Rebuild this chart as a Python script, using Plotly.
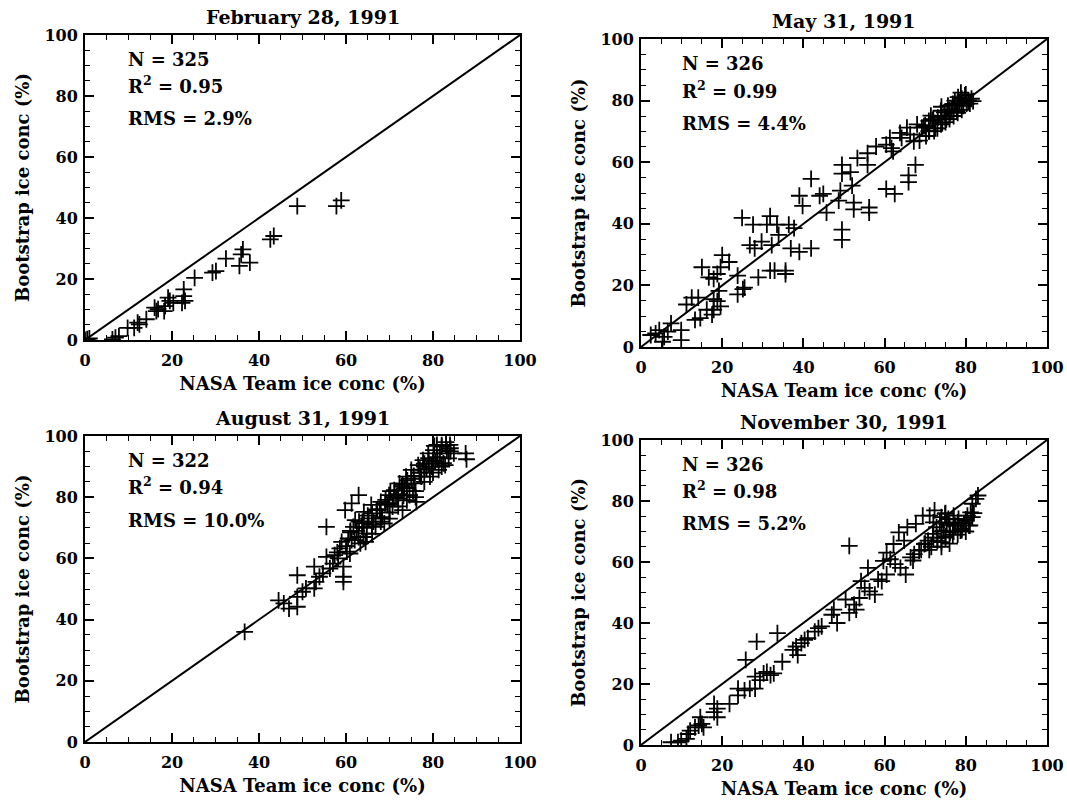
import plotly.graph_objects as go
from plotly.subplots import make_subplots

# ---------------- data ----------------
titles = ["February 28, 1991", "May 31, 1991", "August 31, 1991", "November 30, 1991"]
n_values = [325, 326, 322, 326]
r2_values = ["0.95", "0.99", "0.94", "0.98"]
rms_values = ["2.9%", "4.4%", "10.0%", "5.2%"]
x_title = "NASA Team ice conc (%)"
y_title = "Bootstrap ice conc (%)"
tick_vals = [0, 20, 40, 60, 80, 100]
tick_text = ["0", "20", "40", "60", "80", "100"]
one_to_one = [0, 100]

feb_nasa = [0, 0.5, 1, 6.3, 7.0, 7.8, 9.8, 11.3, 12.1, 12.5, 14.1, 16.0, 16.4, 16.8, 18.2, 18.4,
            19.1, 19.5, 20.3, 22.3, 23.0, 22.7, 22.7, 25.2, 29.3, 30.1, 32.4, 35.5, 35.9, 36.3,
            37.9, 42.6, 43.4, 48.8, 57.8, 58.9]
feb_boot = [0, 0.3, 0.5, 0.2, 0.8, 1.3, 4.0, 4.0, 5.7, 5.1, 6.8, 10.6, 9.5, 10.1, 9.5, 11.1,
            13.9, 12.8, 12.2, 12.2, 12.8, 14.4, 16.6, 20.4, 22.1, 22.6, 26.7, 24.3, 28.1, 29.7,
            25.4, 33.0, 34.1, 43.9, 43.9, 45.8]

may_nasa = [2.4, 3.6, 4.5, 5.7, 5.3, 6.6, 7.4, 9.9, 9.9, 11.2, 12.5, 14.1, 13.3, 14.6, 16.2,
            17.5, 17.9, 17.9, 18.8, 19.6, 19.2, 15.0, 16.7, 17.9, 18.8, 19.6, 20.0, 21.7, 23.8,
            23.8, 25.1, 25.5, 24.9, 27.6, 26.8, 28.0, 28.9, 29.7, 31.0, 31.8, 32.2, 31.8, 32.9,
            33.5, 33.9, 35.6, 35.6, 36.4, 37.7, 36.9, 39.0, 39.8, 39.0, 41.9, 41.9, 44.0, 44.9,
            45.7, 49.1, 48.7, 49.5, 49.5, 49.5, 49.5, 51.6, 52.0, 52.4, 52.4, 53.3, 55.8, 55.8,
            56.2, 56.2, 57.9, 60.4, 61.3, 61.7, 60.4, 62.5, 62.1, 63.8, 64.2, 65.5, 65.9, 65.9,
            67.6, 67.2, 68.0, 69.2, 69.7, 70.9, 71.4, 72.2, 73.1, 73.9, 74.7, 75.6, 76.0, 76.8,
            77.3, 78.1, 78.5, 79.0, 79.8, 80.6, 81.4, 73.9, 75.2, 70.9, 66.3, 72.5, 74.2, 76.5,
            77.8, 79.4, 80.2, 71.8, 70.2, 68.6, 75.0, 78.8, 81.8,
            70.0, 71.0, 72.0, 73.0, 74.0, 75.0, 76.0, 77.0, 78.0, 79.0, 80.0, 81.0, 74.0, 76.0, 78.0]
may_boot = [3.9, 4.4, 5.5, 3.3, 1.7, 5.0, 7.7, 5.5, 2.2, 13.8, 16.0, 16.0, 8.8, 9.4, 12.1,
            10.5, 12.1, 15.5, 14.9, 13.2, 18.2, 25.9, 22.6, 22.1, 23.7, 25.9, 29.8, 27.6, 23.2,
            17.1, 18.8, 19.3, 41.9, 39.7, 33.1, 32.0, 22.6, 34.2, 39.7, 42.5, 33.1, 24.8, 24.8,
            39.7, 36.4, 24.8, 23.7, 39.7, 38.6, 32.0, 49.1, 45.8, 30.9, 32.0, 54.6, 49.1, 49.7,
            43.6, 50.8, 47.5, 59.1, 56.3, 38.1, 34.8, 56.8, 52.4, 46.9, 44.7, 61.3, 62.9, 59.1,
            45.3, 43.6, 65.1, 65.7, 67.9, 64.6, 51.3, 49.7, 63.5, 69.5, 67.9, 71.2, 55.7, 53.5,
            59.1, 66.8, 72.3, 71.2, 71.7, 73.4, 75.1, 70.1, 74.5, 76.7, 76.2, 78.4, 75.1, 78.9,
            80.0, 81.1, 79.5, 80.6, 81.7, 80.0, 80.6, 72.3, 73.9, 70.1, 69.0, 71.0, 72.8, 77.2,
            76.5, 78.3, 79.0, 73.6, 68.5, 67.0, 74.3, 82.6, 79.8,
            72.0, 70.0, 74.0, 71.0, 75.0, 73.0, 77.0, 75.0, 79.0, 77.0, 82.0, 79.0, 78.0, 74.0, 76.0]

aug_nasa = [36.7, 44.5, 45.7, 46.9, 48.8, 48.8, 48.8, 50.0, 50.8, 52.7, 53.1, 52.7, 53.9, 54.7,
            55.5, 55.5, 56.3, 57.0, 57.4, 58.2, 58.6, 59.0, 59.4, 59.4, 59.4, 59.8, 60.2, 60.9,
            61.3, 61.3, 61.7, 62.1, 62.9, 62.9, 63.3, 63.7, 64.1, 64.5, 64.8, 65.2, 66.0, 66.8,
            67.2, 68.0, 68.8, 69.1, 69.9, 70.7, 71.1, 71.9, 72.3, 73.0, 73.4, 73.8, 74.6, 75.0,
            75.8, 76.2, 76.6, 77.3, 77.7, 78.5, 78.9, 79.3, 80.1, 80.5, 80.9, 81.3, 81.6, 82.0,
            82.4, 83.2, 83.6, 83.9, 84.8, 87.5, 87.7, 60.5, 62.5, 64.0, 66.3, 67.8, 69.5, 70.2,
            71.5, 72.8, 74.1, 75.4, 76.9, 78.0, 79.7, 81.0, 82.8, 84.0, 58.0, 61.0, 63.8, 65.8,
            68.3, 70.0, 73.2, 75.6, 77.0, 79.0, 80.3, 83.0,
            60, 61, 62, 63, 64, 65, 66, 67, 68, 69, 70, 71, 72, 73, 74, 75, 76, 77, 78, 79,
            80, 81, 82, 83, 84, 64, 66, 68, 70, 72, 74, 76, 78, 80, 82]
aug_boot = [36.0, 46.3, 45.3, 43.6, 44.2, 47.4, 54.5, 49.1, 50.2, 50.2, 52.3, 57.3, 54.0, 55.1,
            70.3, 60.5, 56.7, 58.3, 61.1, 60.0, 63.3, 65.4, 57.3, 54.0, 52.3, 75.8, 62.2, 61.6,
            78.0, 66.0, 70.3, 72.5, 80.7, 67.0, 64.9, 70.3, 75.2, 65.4, 68.2, 73.1, 74.7, 70.3,
            75.8, 78.5, 71.4, 79.1, 80.7, 76.9, 82.3, 79.6, 84.5, 75.8, 82.9, 86.7, 80.7, 88.9,
            84.5, 78.5, 90.5, 86.7, 92.1, 89.4, 94.3, 86.7, 95.4, 91.6, 97.1, 88.9, 94.3, 96.5,
            91.1, 95.4, 92.7, 97.1, 94.3, 94.3, 92.4, 66.5, 69.0, 71.5, 72.0, 76.0, 77.5, 82.0,
            80.0, 83.5, 85.5, 82.0, 88.0, 91.0, 90.0, 93.0, 90.5, 96.0, 62.0, 68.5, 72.0, 77.5,
            73.5, 78.0, 80.5, 87.0, 89.0, 92.8, 96.8, 98.0,
            64, 69, 66, 72, 70, 74, 71, 76, 73, 78, 75, 80, 77, 84, 79, 86, 82, 88, 85, 91,
            88, 93, 90, 97, 95, 67, 68, 72, 73, 81, 83, 80, 90, 92, 97]

nov_nasa = [7.4, 9.1, 9.9, 11.2, 11.6, 12.1, 13.3, 14.2, 15.0, 14.6, 15.4, 18.0, 18.8, 18.0,
            18.8, 21.8, 23.9, 23.9, 25.5, 26.8, 25.8, 28.1, 28.5, 28.1, 29.3, 30.2, 31.0, 31.9,
            32.7, 33.6, 34.8, 37.4, 38.2, 38.6, 39.5, 40.3, 41.1, 42.8, 43.7, 44.5, 47.0, 47.5,
            48.3, 50.4, 51.3, 51.3, 52.5, 53.0, 53.8, 54.2, 55.1, 55.9, 56.3, 57.6, 58.4, 59.3,
            59.7, 60.5, 60.5, 61.4, 62.2, 62.6, 63.5, 63.9, 64.8, 65.2, 65.6, 66.4, 67.3, 67.7,
            68.5, 69.4, 69.8, 70.7, 71.1, 71.9, 72.3, 72.8, 73.6, 74.0, 74.5, 74.9, 75.3, 75.7,
            76.1, 77.0, 77.4, 78.2, 78.7, 79.5, 80.4, 80.8, 81.2, 81.6, 82.5, 83.0, 81.6, 73.0,
            75.0, 76.8, 78.0, 79.0, 80.0, 74.0, 71.5, 69.0, 67.0,
            70, 71, 72, 73, 74, 75, 76, 77, 78, 79, 80, 81, 82, 74, 76, 78, 80, 72, 75, 77]
nov_boot = [0.9, 0.9, 1.4, 2.0, 3.6, 4.7, 5.8, 6.4, 6.9, 9.1, 5.8, 10.8, 9.1, 13.5,
            11.9, 13.5, 16.3, 18.5, 17.9, 18.5, 27.9, 18.5, 33.9, 22.4, 21.3, 23.5, 24.0, 22.9,
            23.5, 36.7, 27.3, 31.2, 32.3, 29.5, 33.4, 34.5, 35.0, 37.2, 38.3, 38.9, 42.7, 44.4,
            40.0, 47.7, 43.3, 65.3, 46.0, 44.4, 48.2, 53.7, 51.5, 58.1, 50.4, 49.3, 54.3, 53.7,
            60.4, 55.9, 63.1, 60.9, 65.9, 59.3, 69.7, 58.1, 67.0, 55.9, 71.4, 61.5, 62.6, 72.5,
            63.7, 75.2, 65.9, 67.0, 75.2, 69.2, 76.9, 71.4, 73.0, 74.7, 70.3, 75.8, 72.5, 74.1,
            69.7, 75.2, 71.9, 74.1, 70.3, 72.7, 75.2, 71.9, 76.3, 79.1, 80.7, 81.8, 74.7, 68.0,
            68.5, 69.0, 72.0, 70.5, 73.5, 66.5, 65.0, 64.0, 60.5,
            66, 64, 68, 67, 70, 68, 72, 70, 73, 71, 74, 72, 76, 65, 66, 69, 70, 73, 76, 74]

panels = [(feb_nasa, feb_boot), (may_nasa, may_boot), (aug_nasa, aug_boot), (nov_nasa, nov_boot)]

# ---------------- figure ----------------
W, H = 1067, 803
# plot-area pixel boxes in page coordinates (left, right, top, bottom)
boxes = [(85, 520, 35, 340), (641, 1047, 39, 347), (85, 520, 436, 742), (641, 1047, 440, 745)]

FONT = dict(family="DejaVu Serif", size=16, color="black", weight="bold")
BIG = dict(FONT, size=18)
TITLE_FONT = dict(FONT, size=19)

fig = make_subplots(rows=2, cols=2)
pos = [(1, 1), (1, 2), (2, 1), (2, 2)]

for i, ((xs, ys), (r, c)) in enumerate(zip(panels, pos)):
    fig.add_trace(go.Scatter(x=one_to_one, y=one_to_one, mode="lines",
                             line=dict(color="black", width=2), hoverinfo="skip"), row=r, col=c)
    fig.add_trace(go.Scatter(x=xs, y=ys, mode="markers",
                             marker=dict(symbol="cross-thin", size=12, color="black",
                                         line=dict(color="black", width=1.8))), row=r, col=c)

for i in range(4):
    l, rr, t, b = boxes[i]
    sfx = "" if i == 0 else str(i + 1)
    axis_common = dict(range=[0, 100], showgrid=False, zeroline=False, showline=True,
                       linecolor="black", linewidth=2, mirror="ticks", ticks="inside",
                       ticklen=9, tickwidth=1.5, tickcolor="black", automargin=False,
                       tickvals=tick_vals, ticktext=tick_text, tickfont=FONT,
                       minor=dict(ticks="inside", dtick=5, ticklen=5, tickwidth=1.2,
                                  tickcolor="black", showgrid=False))
    fig.layout["xaxis" + sfx].update(domain=[l / W, rr / W], ticklabelstandoff=5,
                                     title=dict(text=x_title, font=BIG, standoff=8),
                                     **axis_common)
    fig.layout["yaxis" + sfx].update(domain=[1 - b / H, 1 - t / H], ticklabelstandoff=2,
                                     title=dict(text=y_title, font=BIG, standoff=10),
                                     **axis_common)
    xref = "x" + sfx + " domain"
    yref = "y" + sfx + " domain"
    fig.add_annotation(text=titles[i], xref=xref, yref=yref, x=0.5, y=1, yshift=5,
                       xanchor="center", yanchor="bottom", showarrow=False, font=TITLE_FONT)
    xd = "x" + sfx
    yd = "y" + sfx
    fig.add_annotation(text="N = %d" % n_values[i], xref=xd, yref=yd, x=9.5, y=92,
                       xanchor="left", yanchor="middle", showarrow=False, font=BIG)
    fig.add_annotation(text="R<sup>2</sup> = " + r2_values[i], xref=xd, yref=yd, x=9.5, y=83.5,
                       xanchor="left", yanchor="middle", showarrow=False, font=BIG)
    fig.add_annotation(text="RMS = " + rms_values[i], xref=xd, yref=yd, x=9.5, y=72.5,
                       xanchor="left", yanchor="middle", showarrow=False, font=BIG)

fig.update_layout(width=W, height=H, margin=dict(l=0, r=0, t=0, b=0),
                  paper_bgcolor="white", plot_bgcolor="white", showlegend=False,
                  font=FONT)

# remove the default page margin so the figure fills the window exactly
fig.write_html("out.html", config={"displayModeBar": False},
               post_script="document.body.style.margin='0';document.body.style.overflow='hidden';")
